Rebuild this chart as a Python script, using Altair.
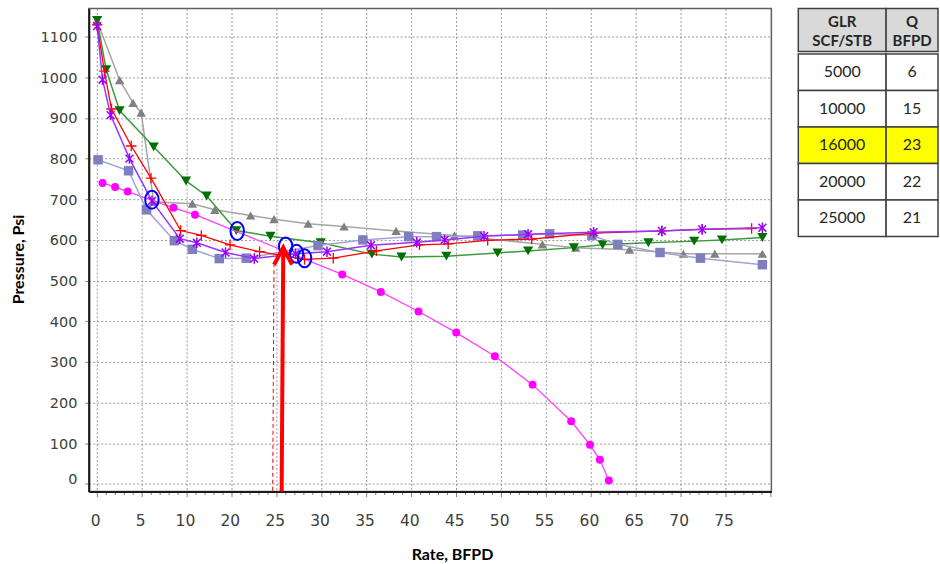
import altair as alt
import pandas as pd

# ---------------- data ----------------
# x in BFPD (evenly spaced grid); the printed tick labels of the original skip "15"
gray_x = [0, 2.5, 4.0, 4.9, 6.3, 10.6, 13.1, 17.1, 19.7, 23.5, 27.5, 33.3, 39.8, 49.6, 53.3, 59.3, 65.3, 68.8, 74.1]
gray_y = [1138, 993, 937, 913, 694, 689, 674, 660, 651, 640, 633, 622, 611, 589, 581, 576, 566, 566, 566]

green_x = [0, 1.0, 2.5, 6.3, 9.9, 12.2, 15.5, 19.3, 24.9, 30.6, 33.9, 38.9, 44.6, 48.0, 53.1, 56.3, 61.4, 66.5, 69.6, 74.1]
green_y = [1140, 1019, 918, 829, 745, 708, 623, 609, 593, 565, 558, 560, 568, 573, 581, 588, 593, 597, 600, 606]

red_x = [0, 0.8, 1.6, 3.8, 6.0, 9.3, 11.6, 14.8, 18.1, 23.1, 26.3, 31.1, 35.9, 39.1, 43.5, 48.4, 55.3, 62.9, 67.4, 72.9]
red_y = [1129, 1015, 922, 831, 752, 623, 611, 588, 571, 552, 555, 573, 588, 590, 599, 602, 617, 622, 626, 628]

purple_x = [0, 0.6, 1.5, 3.6, 6.1, 9.2, 11.1, 14.3, 17.5, 22.1, 25.6, 30.5, 35.6, 38.7, 43.1, 48.0, 55.3, 62.9, 67.4, 74.1]
purple_y = [1126, 994, 907, 800, 696, 603, 593, 569, 554, 566, 571, 587, 594, 600, 609, 614, 619, 622, 626, 630]

square_x = [0.1, 3.5, 5.5, 8.6, 10.6, 13.6, 16.6, 24.6, 29.6, 34.7, 37.8, 42.4, 47.4, 50.4, 55.1, 58.0, 62.7, 67.2, 74.1]
square_y = [797, 770, 674, 598, 577, 554, 555, 586, 600, 608, 608, 610, 612, 615, 611, 589, 569, 555, 539]

magenta_x = [0.6, 2.0, 3.4, 8.5, 10.9, 27.3, 31.6, 35.8, 40.0, 44.3, 48.5, 52.8, 54.9, 56.0, 57.0]
magenta_y = [740, 730, 719, 679, 662, 515, 472, 424, 372, 314, 244, 154, 96, 59, 8]

# operating points (blue circles)
op_x = [6.1, 15.6, 21.0, 22.2, 23.1]
op_y = [699, 622, 584, 566, 555]

# red arrow (shaft, head) and dashed guide
arrow_seg = [0, 0, 1, 1, 1]
arrow_x = [20.55, 20.73, 19.7, 20.73, 21.7]
arrow_y = [-19, 581, 539, 581, 539]
dash_x = [19.55, 19.7]
dash_y = [-17, 539]

# table
tbl_head_glr = ["GLR", "SCF/STB"]
tbl_head_q = ["Q", "BFPD"]
tbl_glr = ["5000", "10000", "16000", "20000", "25000"]
tbl_q = ["6", "15", "23", "22", "21"]
tbl_highlight = "16000"

y_ticks = list(range(0, 1101, 100))
x_ticks = list(range(0, 76))

# ---------------- chart ----------------
LABEL_FONT = "DejaVu Sans"
TITLE_FONT = "Lato"

def frame(xs, ys, name):
    return pd.DataFrame({"x": xs, "y": ys, "i": range(len(xs)), "s": name})

x_enc = alt.X(
    "x:Q",
    scale=alt.Scale(domain=[-0.93, 75.1], nice=False, zero=False),
    axis=alt.Axis(
        values=x_ticks,
        labelExpr="datum.value % 5 === 0 && datum.value <= 70 ? (datum.value < 15 ? '' + datum.value : '' + (datum.value + 5)) : ''",
        labelOverlap=False, labelFlush=False,
        labelFont=LABEL_FONT, labelFontSize=15.5, labelColor="#404040",
        labelPadding=17, labelOffset=-2,
        grid=True, gridDash=[2, 2], gridColor="#999999", gridWidth=1,
        gridOpacity={"condition": {"test": "datum.value % 5 === 0 && datum.value <= 70", "value": 1}, "value": 0},
        tickSize={"condition": {"test": "datum.value % 5 === 0", "value": 5}, "value": 3},
        tickColor="#808080", tickWidth=1,
        domainColor="#1a1a1a", domainWidth=2,
        title="Rate, BFPD", titleFont=TITLE_FONT, titleFontSize=16, titleFontWeight="bold",
        titleColor="#000000", titleX=364, titleY=63, titleBaseline="middle", titleAlign="center",
    ),
)
y_enc = alt.Y(
    "y:Q",
    scale=alt.Scale(domain=[-19, 1169], nice=False, zero=False),
    axis=alt.Axis(
        values=y_ticks, format="d",
        labelFont=LABEL_FONT, labelFontSize=14.5, labelColor="#404040", labelPadding=8,
        labelOffset={"condition": {"test": "datum.value === 0", "value": -4}, "value": 1},
        grid=True, gridDash=[2, 2], gridColor="#999999", gridWidth=1,
        tickSize=4, tickColor="#808080",
        domainColor="#1a1a1a", domainWidth=2,
        title="Pressure, Psi", titleFont=TITLE_FONT, titleFontSize=16, titleFontWeight="bold",
        titleColor="#000000", titleX=-70, titleY=251, titleBaseline="middle", titleAlign="center",
        titleAngle=270,
    ),
)

PLUS = "M-1,0L1,0M0,-1L0,1"
STAR = "M0,-1L0,1M-0.75,-0.75L0.75,0.75M-0.75,0.75L0.75,-0.75"
ELLIPSE = "M-0.75,0A0.75,1,0,1,1,0.75,0A0.75,1,0,1,1,-0.75,0Z"

series = [
    (gray_x, gray_y, "g5000", "#A6A6A6", 1.5, dict(shape="triangle-up", filled=True, fill="#808080", size=90)),
    (green_x, green_y, "g10000", "#3C9A3C", 1.5, dict(shape="triangle-down", filled=True, fill="#007000", size=105)),
    (magenta_x, magenta_y, "pump", "#FF40FF", 1.3, dict(shape="circle", filled=True, fill="#FF00FF", size=64)),
    (square_x, square_y, "g25000", "#A3A3D6", 1.5, dict(shape="square", filled=True, fill="#7F7FBF", size=90)),
    (red_x, red_y, "g16000", "#FF0000", 1.3, dict(shape=PLUS, filled=False, stroke="#FF0000", strokeWidth=1.3, size=110)),
    (purple_x, purple_y, "g20000", "#9933FF", 1.5, dict(shape=STAR, filled=False, stroke="#9900FF", strokeWidth=1.5, size=110)),
]

layers = []
for xs, ys, name, lc, lw, pt in series:
    base = alt.Chart(frame(xs, ys, name))
    layers.append(base.mark_line(color=lc, strokeWidth=lw).encode(x=x_enc, y=y_enc, order="i:Q"))
    layers.append(base.mark_point(opacity=1, **pt).encode(x=x_enc, y=y_enc))

layers.append(
    alt.Chart(pd.DataFrame({"x": op_x, "y": op_y})).mark_point(
        shape=ELLIPSE, filled=False, stroke="#0000FF", strokeWidth=2, size=324, opacity=1
    ).encode(x=x_enc, y=y_enc)
)
layers.append(
    alt.Chart(pd.DataFrame({"x": dash_x, "y": dash_y, "i": [0, 1]})).mark_line(
        color="#FF0000", strokeWidth=1, strokeDash=[4, 3]
    ).encode(x=x_enc, y=y_enc, order="i:Q")
)
layers.append(
    alt.Chart(pd.DataFrame({"x": arrow_x, "y": arrow_y, "seg": arrow_seg, "i": range(len(arrow_x))})).mark_line(
        color="#FF0000", strokeWidth=4, strokeJoin="miter", strokeCap="butt"
    ).encode(x=x_enc, y=y_enc, detail="seg:N", order="i:Q")
)

main = alt.layer(*layers).properties(
    width=684, height=484,
    view=alt.ViewBackground(stroke="#606060", strokeWidth=1.5),
)

# ---------------- table ----------------
BORDER = dict(stroke="#404040", strokeWidth=1.5)

def header_cell(lines, width):
    hdf = pd.DataFrame({"k": ["h"], "l1": [lines[0]], "l2": [lines[1]]})
    hy = alt.Y("k:N", axis=None, scale=alt.Scale(paddingInner=0, paddingOuter=0))
    hb = alt.Chart(hdf)
    txt = dict(font=TITLE_FONT, fontSize=15, fontWeight="bold", color="#262626", baseline="middle")
    return alt.layer(
        hb.mark_rect(fill="#D9D9D9", **BORDER).encode(y=hy),
        hb.mark_text(dy=-8, **txt).encode(y=hy, text="l1:N"),
        hb.mark_text(dy=11, **txt).encode(y=hy, text="l2:N"),
    ).properties(width=width, height=43)

def body_column(cells, width):
    bdf = pd.DataFrame({"row": range(len(cells)), "t": cells, "key": tbl_glr})
    by = alt.Y("row:O", axis=None, scale=alt.Scale(paddingInner=0, paddingOuter=0))
    bb = alt.Chart(bdf)
    return alt.layer(
        bb.mark_rect(**BORDER).encode(
            y=by,
            fill=alt.condition(f"datum.key == '{tbl_highlight}'", alt.value("#FFFF00"), alt.value("#FFFFFF")),
        ),
        bb.mark_text(font=TITLE_FONT, fontSize=16, color="#262626", baseline="middle").encode(y=by, text="t:N"),
    ).properties(width=width, height=183)

COL1, COL2 = 88, 52
table = alt.vconcat(
    alt.hconcat(header_cell(tbl_head_glr, COL1), header_cell(tbl_head_q, COL2), spacing=0, bounds="flush"),
    alt.hconcat(body_column(tbl_glr, COL1), body_column(tbl_q, COL2), spacing=0, bounds="flush"),
    spacing=-1.5,
)

chart = alt.hconcat(main, table, spacing=24).properties(
    padding={"left": 10, "top": 6, "right": 0, "bottom": 0},
    background="#FFFFFF",
).configure_view(stroke="transparent")

chart.save("out.html", embed_options={"renderer": "svg", "actions": False})
